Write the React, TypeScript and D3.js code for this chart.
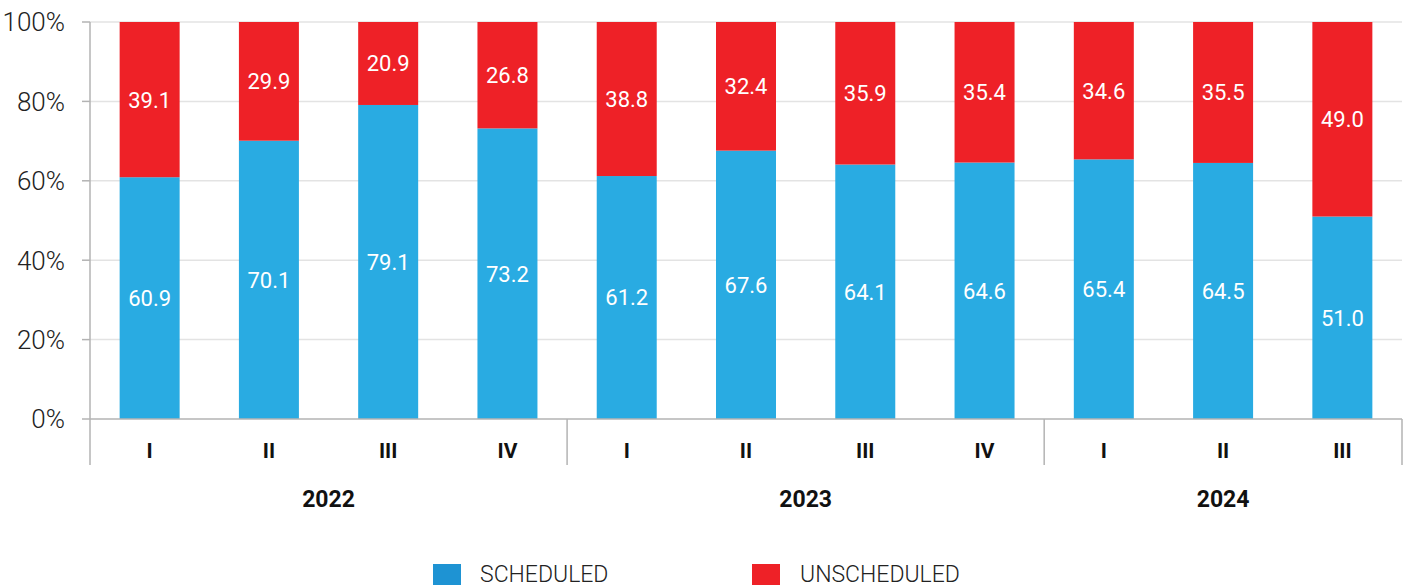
import React from "react";
import * as d3 from "d3";

const quarters = ["I", "II", "III", "IV", "I", "II", "III", "IV", "I", "II", "III"];
const years = ["2022", "2023", "2024"];
const yearSpans = [4, 4, 3];
const scheduled = [60.9, 70.1, 79.1, 73.2, 61.2, 67.6, 64.1, 64.6, 65.4, 64.5, 51.0];
const unscheduled = [39.1, 29.9, 20.9, 26.8, 38.8, 32.4, 35.9, 35.4, 34.6, 35.5, 49.0];
const yTicks = [0, 20, 40, 60, 80, 100];
const seriesNames = ["SCHEDULED", "UNSCHEDULED"];

const W = 1407;
const H = 587;
const left = 90;
const right = 1402;
const top = 22;
const bottom = 419;
const BLUE = "#29abe2";
const BLUE_LEGEND = "#1e93d3";
const RED = "#ee2127";
const FONT = "Roboto, 'Noto Sans', sans-serif";

export default function App() {
  const idx = quarters.map((_, i) => String(i));
  const x = d3.scaleBand<string>().domain(idx).range([left, right]).paddingInner(0.497).paddingOuter(0.2485);
  const y = d3.scaleLinear().domain([0, 100]).range([bottom, top]);

  let cum = 0;
  const dividers: number[] = [left];
  const yearCenters: number[] = [];
  yearSpans.forEach((s) => {
    const start = left + (cum * (right - left)) / quarters.length;
    cum += s;
    const end = left + (cum * (right - left)) / quarters.length;
    dividers.push(end);
    yearCenters.push((start + end) / 2);
  });
  const step = (right - left) / quarters.length;

  return (
    <svg width={W} height={H} style={{ position: "absolute", left: 0, top: 0, background: "#fff" }}>
      {yTicks.map((t) => (
        <g key={t}>
          {t > 0 && <line x1={left} x2={right} y1={y(t)} y2={y(t)} stroke="#e3e3e3" strokeWidth={1.5} />}
          <line x1={82} x2={left} y1={y(t)} y2={y(t)} stroke="#b3b3b3" strokeWidth={1.5} />
          <text x={65} y={y(t)} dy="0.36em" textAnchor="end" fontFamily={FONT} fontWeight={300} fontSize={26} fill="#222">
            {t}%
          </text>
        </g>
      ))}
      {idx.map((k, i) => {
        const bx = x(k)!;
        const bw = x.bandwidth();
        const s = scheduled[i];
        const u = unscheduled[i];
        return (
          <g key={k}>
            <rect x={bx} width={bw} y={y(s)} height={y(0) - y(s)} fill={BLUE} />
            <rect x={bx} width={bw} y={y(s + u)} height={y(s) - y(s + u)} fill={RED} />
            <text x={bx + bw / 2} y={(y(0) + y(s)) / 2} dy="0.36em" textAnchor="middle" fontFamily={FONT} fontWeight={400} fontSize={22} fill="#fff">
              {s.toFixed(1)}
            </text>
            <text x={bx + bw / 2} y={(y(s) + y(s + u)) / 2} dy="0.36em" textAnchor="middle" fontFamily={FONT} fontWeight={400} fontSize={22} fill="#fff">
              {u.toFixed(1)}
            </text>
            <text x={left + step * (i + 0.5)} y={450} dy="0.36em" textAnchor="middle" fontFamily={FONT} fontWeight={700} fontSize={21} fill="#111">
              {quarters[i]}
            </text>
          </g>
        );
      })}
      <line x1={left} x2={right} y1={bottom} y2={bottom} stroke="#b3b3b3" strokeWidth={1.5} />
      {dividers.map((d, i) => (
        <line key={i} x1={d} x2={d} y1={i === 0 ? top : bottom} y2={465} stroke="#b3b3b3" strokeWidth={1.5} />
      ))}
      {years.map((yr, i) => (
        <text key={yr} x={yearCenters[i]} y={499} dy="0.36em" textAnchor="middle" fontFamily={FONT} fontWeight={700} fontSize={23} fill="#111">
          {yr}
        </text>
      ))}
      <rect x={433} y={564} width={28} height={21} fill={BLUE_LEGEND} />
      <text x={480} y={582} fontFamily={FONT} fontWeight={300} fontSize={23} fill="#222">
        {seriesNames[0]}
      </text>
      <rect x={752} y={564} width={28} height={21} fill={RED} />
      <text x={800} y={582} fontFamily={FONT} fontWeight={300} fontSize={23} fill="#222">
        {seriesNames[1]}
      </text>
    </svg>
  );
}
